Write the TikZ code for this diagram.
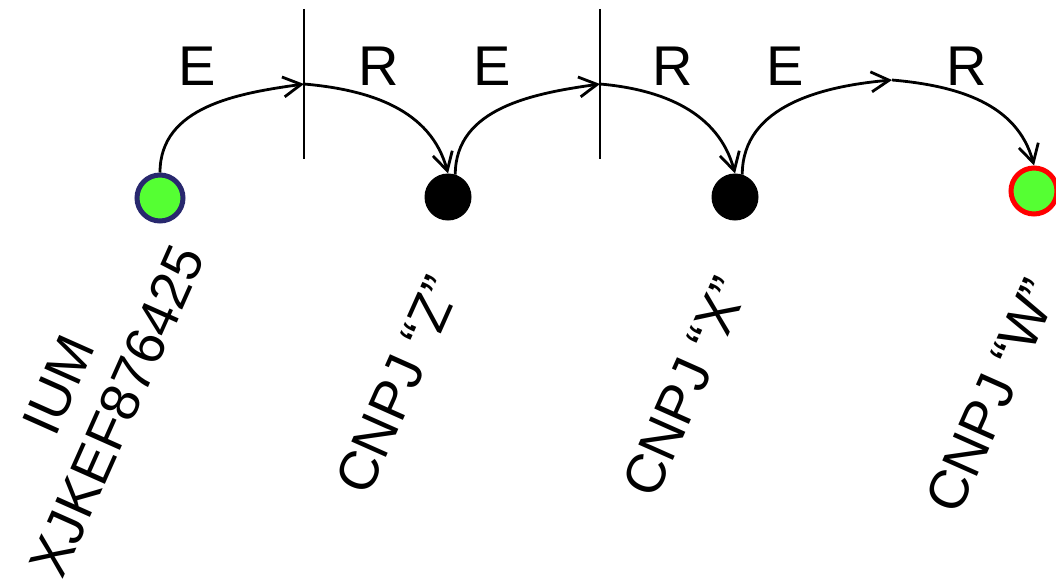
\documentclass[tikz,border=0pt]{standalone}
\usepackage{fontspec}
\setmainfont{Liberation Sans}
\usetikzlibrary{arrows.meta,positioning}
\definecolor{chgreen}{HTML}{55FF33}
\definecolor{chnavy}{HTML}{28286E}
\definecolor{chred}{HTML}{FF0000}

\begin{document}
\begin{tikzpicture}[x=0.5pt, y=0.5pt,
  startNode/.style={circle, draw=chnavy, fill=chgreen, inner sep=0pt, minimum size=23pt, line width=2.5pt},
  hopNode/.style  ={circle, draw=black, fill=black, inner sep=0pt, minimum size=23pt, line width=0.5pt},
  endNode/.style  ={circle, draw=chred, fill=chgreen, inner sep=0pt, minimum size=23pt, line width=2.5pt},
  flowArc/.style  ={line width=1.4pt, -{Straight Barb[length=9pt, width=10pt]}},
  cutLine/.style  ={line width=1.1pt},
  stepLabel/.style={font=\fontsize{28}{33}\selectfont, inner sep=0pt},
  idLabel/.style  ={font=\fontsize{27.5}{32}\selectfont, rotate=66, align=center, inner sep=0pt},
]
\useasboundingbox (0,0) rectangle (1056,580);

% stations
\node[startNode] (a) at (160,382) {};
\node[hopNode]   (b) at (448,383) {};
\node[hopNode]   (c) at (735,383) {};
\node[endNode]   (d) at (1034,389) {};

% turning points of the arcs
\coordinate (m1) at (304,496);
\coordinate (m2) at (600,496);
\coordinate (m3) at (892,500);

% vertical cuts
\coordinate (v1top) at (304,571);
\coordinate (v1bot) at (304,421);
\coordinate (v2top) at (600,571);
\coordinate (v2bot) at (600,421);
\draw[cutLine] (v1top) -- (v1bot);
\draw[cutLine] (v2top) -- (v2bot);

% arcs
\draw[flowArc] (a.north) to[out=90, in=188] (m1);
\draw[flowArc] (m1) to[out=-5, in=105] (b.north);
\draw[flowArc] (b.72) to[out=90, in=188] (m2);
\draw[flowArc] (m2) to[out=-5, in=105] (c.north);
\draw[flowArc] (c.72) to[out=90, in=185] (m3);
\draw[flowArc] (m3) to[out=-5, in=105] (d.north);

% step labels
\node[stepLabel] (e1) at (197,514) {E};
\node[stepLabel] (r1) at (379,514) {R};
\node[stepLabel] (e2) at (492,514) {E};
\node[stepLabel] (r2) at (673,514) {R};
\node[stepLabel] (e3) at (785,514) {E};
\node[stepLabel] (r3) at (967,514) {R};

% station labels
\node[idLabel] (la) at (88,182) {IUM\\XJKEF876425};
\node[idLabel] (lb) at (398,195) {CNPJ “Z”};
\node[idLabel] (lc) at (685,193) {CNPJ “X”};
\node[idLabel] (ld) at (992,184) {CNPJ “W”};
\end{tikzpicture}
\end{document}
